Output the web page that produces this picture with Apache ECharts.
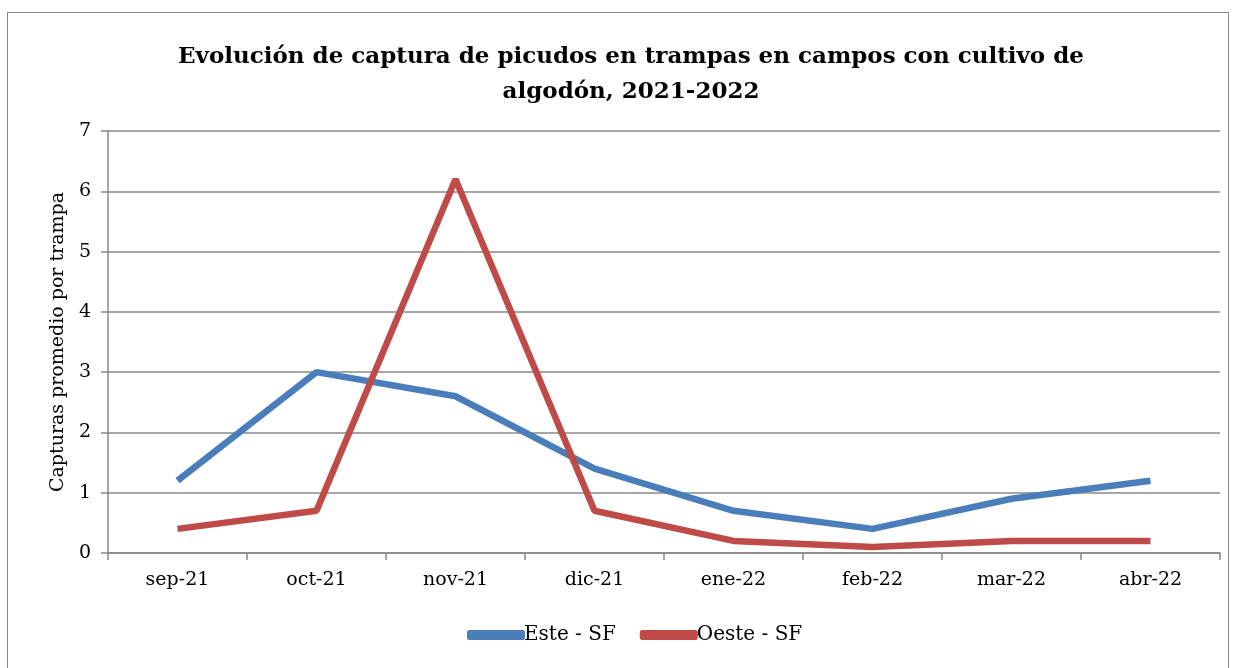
<!DOCTYPE html>
<html>
<head>
<meta charset="utf-8">
<script src="https://cdn.jsdelivr.net/npm/echarts@6/dist/echarts.min.js"></script>
<style>
  html, body { margin: 0; padding: 0; background: #fff; }
  #main { width: 1237px; height: 668px; }
  #frame { position: absolute; left: 7px; top: 12px; width: 1222px; height: 670px; border: 1px solid #888; box-sizing: border-box; pointer-events: none; }
</style>
</head>
<body>
<div id="main"></div>
<div id="frame"></div>
<script>
// meses
let meses = ["sep-21", "oct-21", "nov-21", "dic-21", "ene-22", "feb-22", "mar-22", "abr-22"];
// capturas promedio por trampa
let este = [1.2, 3.0, 2.6, 1.4, 0.7, 0.4, 0.9, 1.2];
let oeste = [0.4, 0.7, 6.2, 0.7, 0.2, 0.1, 0.2, 0.2];

let fuente = "DejaVu Serif";
let myChart = echarts.init(document.getElementById("main"));

let option = {
  animation: false,
  title: {
    text: "Evolución de captura de picudos en trampas en campos con cultivo de\nalgodón, 2021-2022",
    left: 626,
    textAlign: "center",
    top: 35,
    textStyle: {
      fontFamily: fuente,
      fontWeight: "bold",
      fontSize: 23,
      lineHeight: 35,
      color: "#000"
    }
  },
  legend: {
    bottom: 18,
    left: 462,
    itemWidth: 58,
    itemHeight: 10,
    itemGap: 24,
    icon: "roundRect",
    textStyle: { fontFamily: fuente, fontSize: 20, color: "#000", padding: [0, 0, 0, -6] },
    data: ["Este - SF", "Oeste - SF"]
  },
  grid: {
    left: 108,
    right: 17,
    top: 131,
    bottom: 115
  },
  xAxis: {
    type: "category",
    boundaryGap: true,
    data: meses,
    axisLine: { lineStyle: { color: "#888", width: 1.5 } },
    axisTick: { show: true, length: 7, lineStyle: { color: "#888", width: 1.5 } },
    axisLabel: { fontFamily: fuente, fontSize: 19, color: "#000", margin: 18 }
  },
  yAxis: {
    type: "value",
    min: 0,
    max: 7,
    interval: 1,
    name: "Capturas promedio por trampa",
    nameLocation: "middle",
    nameGap: 40,
    nameTextStyle: { fontFamily: fuente, fontSize: 19, color: "#000" },
    axisLine: { show: true, lineStyle: { color: "#888", width: 1.5 } },
    axisTick: { show: true, length: 7, lineStyle: { color: "#888", width: 1.5 } },
    axisLabel: { fontFamily: fuente, fontSize: 19, color: "#000", margin: 17 },
    splitLine: { lineStyle: { color: "#888", width: 1.5 } }
  },
  series: [
    {
      name: "Este - SF",
      type: "line",
      data: este,
      symbol: "none",
      color: "#4a7ebb",
      lineStyle: { width: 6.5, color: "#4a7ebb" }
    },
    {
      name: "Oeste - SF",
      type: "line",
      data: oeste,
      symbol: "none",
      color: "#be4b48",
      lineStyle: { width: 6.5, color: "#be4b48" }
    }
  ]
};
myChart.setOption(option);
</script>
</body>
</html>
